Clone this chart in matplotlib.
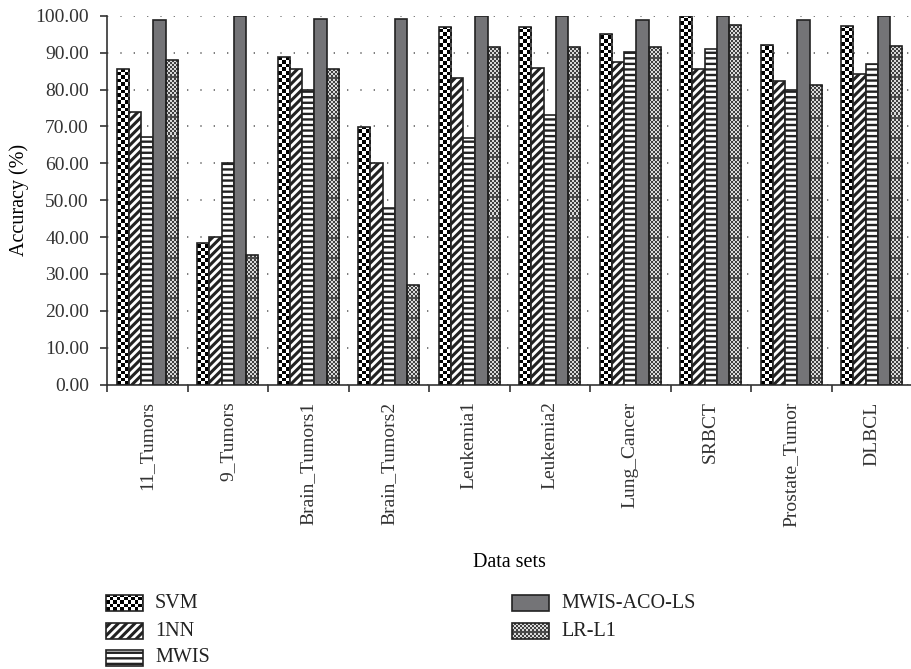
import numpy as np
import matplotlib
matplotlib.use("Agg")
import matplotlib.pyplot as plt
from matplotlib.patches import Rectangle

plt.rcParams['font.family'] = ['Liberation Serif', 'DejaVu Serif']
plt.rcParams['text.color'] = '#222222'
plt.rcParams['xtick.color'] = '#333333'
plt.rcParams['ytick.color'] = '#333333'
plt.rcParams['hatch.linewidth'] = 2.0

# accuracy (%) of each method on each data set
datasets = ['11_Tumors', '9_Tumors', 'Brain_Tumors1', 'Brain_Tumors2', 'Leukemia1',
            'Leukemia2', 'Lung_Cancer', 'SRBCT', 'Prostate_Tumor', 'DLBCL']
methods = ['SVM', '1NN', 'MWIS', 'MWIS-ACO-LS', 'LR-L1']
svm = [85.6, 38.3, 88.9, 69.9, 97.0, 97.0, 95.0, 100.0, 92.0, 97.3]
nn1 = [74.0, 40.0, 85.6, 60.0, 83.2, 85.9, 87.5, 85.6, 82.3, 84.3]
mwis = [67.1, 60.1, 80.0, 47.8, 66.8, 73.1, 90.1, 91.1, 80.0, 86.9]
mwis_aco_ls = [98.8, 99.8, 99.0, 99.1, 100.0, 99.8, 98.7, 100.0, 98.9, 100.0]
lr_l1 = [87.9, 35.1, 85.6, 27.1, 91.6, 91.6, 91.5, 97.4, 81.3, 91.7]
series = [svm, nn1, mwis, mwis_aco_ls, lr_l1]

# fill style per method: (facecolor, hatch, hatch width, texture)
styles = [
    ('none', None, None, 'checker'),
    ('white', '////', 2.2, None),
    ('white', '---', 1.7, None),
    ('#747477', None, None, None),
    ('none', None, None, 'dither'),
]


def fill_texture(ax, patch, kind):
    """Paint a pixel texture inside a patch (clipped to it)."""
    bb = patch.get_window_extent()
    cell = 3.6 if kind == 'checker' else 2.0
    nx = int(np.ceil(bb.width / cell)) + 1
    ny = int(np.ceil(bb.height / cell)) + 1
    inv = ax.transData.inverted()
    dx0, dy0 = inv.transform((bb.x0, bb.y0))
    dx1, dy1 = inv.transform((bb.x0 + nx * cell, bb.y0 + ny * cell))
    ii, jj = np.meshgrid(np.arange(ny), np.arange(nx), indexing='ij')
    if kind == 'checker':
        arr = ((ii + jj) % 2).astype(float)
    else:
        arr = np.where((ii + jj) % 2 == 0, 0.25, 0.85)
        rows = ((np.arange(ny) + 0.5) * cell - 5.7) % 20 < cell
        arr[rows, :] = 0.3
    im = ax.imshow(arr, extent=(dx0, dx1, dy0, dy1), origin='lower', cmap='gray',
                   vmin=0, vmax=1, interpolation='nearest', aspect='auto',
                   zorder=patch.get_zorder() - 0.5)
    im.set_clip_path(patch)


def set_hatch_width(patch, hw):
    if hw and hasattr(patch, 'set_hatch_linewidth'):
        patch.set_hatch_linewidth(hw)


fig = plt.figure(figsize=(9.12, 6.69), dpi=100)
ax = fig.add_axes([107 / 912, 1 - 384.7 / 669, 805 / 912, 369 / 669])
xlim = (-0.5, 9.4)
ax.set_xlim(*xlim)
ax.set_ylim(0, 100)

x = np.arange(len(datasets))
width = 0.1525
for k, (vals, (fc, hatch, hw, tex)) in enumerate(zip(series, styles)):
    bars = ax.bar(x + (k - 2) * width, vals, width, facecolor=fc, hatch=hatch,
                  edgecolor='#222222', linewidth=1.2, zorder=3)
    for b in bars:
        set_hatch_width(b, hw)
        if tex:
            fill_texture(ax, b, tex)

ax.set_xlim(*xlim)
ax.set_ylim(0, 100)

ax.set_yticks(np.arange(0, 101, 10))
ax.set_yticklabels([f'{v:.2f}' for v in np.arange(0, 101, 10)], fontsize=14)
ax.set_xticks(x)
ax.set_xticklabels(datasets, rotation=90, fontsize=14, va='top')
ax.set_xticks(np.arange(-0.5, 10, 1), minor=True)
ax.tick_params(axis='x', which='major', length=0, pad=12)
ax.tick_params(axis='x', which='minor', length=5, width=1.2, direction='out')
ax.tick_params(axis='y', length=5, width=1.2, direction='out', pad=8)

ax.yaxis.grid(True, linestyle=(0, (0.8, 7.2)), color='#666666', linewidth=1.2)
ax.set_axisbelow(True)
for side in ['top', 'right']:
    ax.spines[side].set_visible(False)
for side in ['left', 'bottom']:
    ax.spines[side].set_color('#333333')
    ax.spines[side].set_linewidth(1.2)

ax.set_ylabel('Accuracy (%)', fontsize=14.5)
ax.yaxis.set_label_coords(-0.097, 0.5)
ax.set_xlabel('Data sets', fontsize=14.5)
ax.xaxis.set_label_coords(0.5, -0.455)

# legend drawn in figure pixel space
leg = fig.add_axes([0, 0, 1, 1], facecolor='none')
leg.set_xlim(0, 912)
leg.set_ylim(669, 0)
leg.axis('off')
leg_pos = [(106, 603), (106, 631), (106, 658), (512, 603), (512, 631)]
for name, (fc, hatch, hw, tex), (lx, ly) in zip(methods, styles, leg_pos):
    r = Rectangle((lx, ly - 8), 37, 16, facecolor=fc, hatch=hatch,
                  edgecolor='#222222', linewidth=1.2, zorder=3)
    leg.add_patch(r)
    set_hatch_width(r, hw)
    if tex:
        fill_texture(leg, r, tex)
    leg.text(lx + 49, ly, name, fontsize=14.5, va='center', ha='left')
leg.set_xlim(0, 912)
leg.set_ylim(669, 0)

fig.savefig('out.png', dpi=100)
